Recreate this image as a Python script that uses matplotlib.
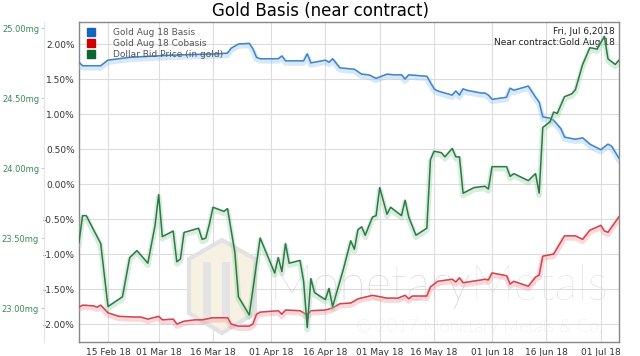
import numpy as np
import matplotlib
matplotlib.use('Agg')
import matplotlib.pyplot as plt
import matplotlib.dates as mdates
import matplotlib.patheffects as pe
from matplotlib.lines import Line2D
from matplotlib.patches import Polygon

start = np.datetime64('2018-02-07')

# Gold Aug 18 Basis (%), days since 7 Feb 2018
basis_day = [0, 1, 6, 8, 14, 25, 38, 41, 42, 44, 47, 48, 49, 50, 55, 56, 57, 62, 63, 64,
             68, 69, 70, 72, 76, 78, 80, 82, 85, 87, 89, 90, 91, 96, 98, 99, 103, 104, 105,
             106, 107, 111, 112, 113, 114, 118, 119, 120, 124, 126, 127, 128, 130, 131, 133,
             134, 137, 139, 141, 144, 146, 147, 149]
basis = [1.74, 1.69, 1.69, 1.77, 1.81, 1.84, 1.86, 1.87, 1.94, 2.00, 2.01, 1.93, 1.81, 1.79,
         1.79, 1.83, 1.76, 1.76, 1.86, 1.73, 1.77, 1.74, 1.79, 1.66, 1.64, 1.57, 1.56, 1.51,
         1.57, 1.56, 1.56, 1.50, 1.56, 1.54, 1.36, 1.33, 1.27, 1.33, 1.27, 1.36, 1.34, 1.30,
         1.30, 1.27, 1.21, 1.24, 1.37, 1.34, 1.40, 1.24, 1.17, 0.96, 0.94, 0.91, 0.79, 0.67,
         0.64, 0.66, 0.57, 0.49, 0.57, 0.54, 0.37]

# Gold Aug 18 Cobasis (%)
cobasis_day = [0, 1, 4, 5, 6, 8, 11, 15, 17, 19, 22, 23, 26, 27, 29, 32, 34, 37, 41, 42, 44,
               47, 48, 49, 50, 55, 56, 57, 61, 63, 64, 68, 70, 72, 75, 77, 81, 85, 88, 90,
               91, 92, 96, 97, 99, 103, 104, 105, 106, 111, 112, 113, 114, 118, 119, 120,
               124, 126, 127, 128, 131, 134, 137, 139, 141, 144, 145, 146, 149]
cobasis = [-1.76, -1.73, -1.74, -1.76, -1.73, -1.84, -1.89, -1.90, -1.90, -1.93, -1.89,
           -1.94, -1.93, -2.00, -1.96, -1.94, -1.94, -1.91, -1.91, -2.00, -2.03, -2.03,
           -2.00, -1.86, -1.83, -1.81, -1.86, -1.80, -1.81, -1.87, -1.81, -1.80, -1.77,
           -1.71, -1.70, -1.64, -1.59, -1.63, -1.63, -1.59, -1.64, -1.60, -1.60, -1.47,
           -1.39, -1.36, -1.40, -1.34, -1.41, -1.37, -1.36, -1.37, -1.27, -1.31, -1.43,
           -1.39, -1.46, -1.33, -1.30, -1.03, -1.00, -0.74, -0.74, -0.79, -0.66, -0.59,
           -0.67, -0.69, -0.47]

# Dollar bid price in gold (mg)
dollar_day = [0, 1, 2, 6, 8, 12, 14, 16, 19, 21, 22, 23, 26, 27, 28, 29, 33, 34, 35, 36, 37,
              40, 41, 43, 44, 47, 50, 54, 55, 56, 57, 58, 61, 62, 63, 64, 65, 68, 69, 70, 73,
              75, 76, 77, 78, 79, 81, 82, 83, 85, 86, 89, 90, 91, 93, 96, 97, 98, 100, 101,
              103, 104, 105, 106, 109, 112, 113, 114, 118, 119, 120, 124, 126, 127, 128, 130,
              131, 132, 134, 136, 137, 139, 141, 143, 145, 146, 148, 149]
dollar = [23.47, 23.66, 23.66, 23.46, 23.01, 23.08, 23.36, 23.41, 23.32, 23.59, 23.81,
          23.51, 23.55, 23.33, 23.35, 23.54, 23.57, 23.49, 23.50, 23.60, 23.72, 23.69,
          23.71, 23.40, 23.08, 22.95, 23.50, 23.25, 23.36, 23.26, 23.46, 23.32, 23.34,
          23.19, 22.86, 23.21, 23.11, 23.06, 23.14, 23.01, 23.28, 23.48, 23.42, 23.56,
          23.58, 23.52, 23.65, 23.66, 23.86, 23.67, 23.72, 23.66, 23.77, 23.65, 23.52,
          23.57, 24.06, 24.12, 24.11, 24.08, 24.14, 24.08, 24.08, 23.82, 23.86, 23.87,
          23.85, 24.01, 24.01, 23.94, 23.96, 23.91, 23.96, 23.82, 24.29, 24.33, 24.40,
          24.39, 24.51, 24.53, 24.56, 24.74, 24.86, 24.85, 24.94, 24.78, 24.74, 24.77]

pct_ticks = [-2.0, -1.5, -1.0, -0.5, 0.0, 0.5, 1.0, 1.5, 2.0]
mg_ticks = [23.0, 23.5, 24.0, 24.5, 25.0]
date_ticks = ['2018-02-15', '2018-03-01', '2018-03-16', '2018-04-01', '2018-04-16',
              '2018-05-01', '2018-05-16', '2018-06-01', '2018-06-16', '2018-07-01']

blue, red, green = '#3f83c8', '#d2434f', '#2f7748'

fig = plt.figure(figsize=(6.4, 3.56), dpi=100)
ax = fig.add_axes([0.1234, 0.0393, 0.8436, 0.8987])
ax2 = ax.twinx()

def days(d):
    return start + np.array(d).astype('timedelta64[D]')

def glow(c):
    return [pe.SimpleLineShadow(offset=(0, -1.5), shadow_color=c, alpha=0.35, linewidth=4),
            pe.Normal()]

ax.plot(days(basis_day), basis, color=blue, lw=1.1, path_effects=glow('#8fc0f0'), zorder=3)
ax.plot(days(cobasis_day), cobasis, color=red, lw=1.1, path_effects=glow('#f0909a'), zorder=3)
ax2.plot(days(dollar_day), dollar, color=green, lw=1.1, path_effects=glow('#8fd0a0'), zorder=3)

ax.set_xlim(start, np.datetime64('2018-07-06'))
ax.set_ylim(-2.257, 2.314)
ax2.set_ylim(22.757, 25.043)

ax.set_yticks(pct_ticks)
ax.set_yticklabels(['%.2f%%' % v for v in pct_ticks])
ax.set_xticks([np.datetime64(d) for d in date_ticks])
ax.xaxis.set_major_formatter(mdates.DateFormatter('%d %b %y'))
ax.tick_params(axis='both', length=0, labelsize=6.5, colors='#333333')
ax.tick_params(axis='x', pad=4)
ax.tick_params(axis='y', pad=3)
ax.grid(True, color='#dcdcdc', lw=0.8)
ax.set_axisbelow(True)
for s in ax.spines.values():
    s.set_color('#888888')
    s.set_linewidth(1.0)

ax2.yaxis.tick_left()
ax2.spines['left'].set_position(('outward', 25))
ax2.spines['left'].set_color('#e4e4e4')
ax2.spines['right'].set_visible(False)
ax2.spines['top'].set_visible(False)
ax2.spines['bottom'].set_visible(False)
ax2.set_yticks(mg_ticks)
ax2.set_yticklabels(['%.2fmg' % v for v in mg_ticks])
ax2.tick_params(axis='y', length=2.5, color='#cccccc', labelsize=6.0, labelcolor='#3a8a5a', pad=1.2)

# watermark: logo hexagon and text
px = lambda x, y: ((x - 79) / 540, (342 - y) / 320)
hexagon = Polygon([px(222, 240), px(255, 259), px(255, 313), px(222, 333), px(189, 313), px(189, 259)],
                  closed=True, transform=ax.transAxes, facecolor='#f6f1e2', edgecolor='#e2e2e2',
                  lw=3, zorder=1)
ax.add_patch(hexagon)
for bx in [(203, 211), (222, 230)]:
    ax.add_patch(Polygon([px(bx[0], 262), px(bx[1], 262), px(bx[1], 318), px(bx[0], 318)],
                         closed=True, transform=ax.transAxes, facecolor='#e4e4e4',
                         edgecolor='none', zorder=1))
ax.text(0.725, 0.13, 'Monetary', transform=ax.transAxes, fontsize=35, family='Lato',
        weight='light', color='#c8c8c8', ha='right', va='baseline', zorder=1)
ax.text(0.725, 0.13, 'Metals', transform=ax.transAxes, fontsize=35, family='Lato',
        weight='light', color='#dadada', ha='left', va='baseline', zorder=1)
ax.text(0.743, 0.047, '\u00a9 2017 Monetary Metals & Co.', transform=ax.transAxes, fontsize=13,
        family='Lato', weight='light', color='#d2d2d2', ha='center', va='center', zorder=1)

handles = [Line2D([], [], ls='', marker='s', ms=6, color=c) for c in ['#1466c0', '#cc0000', '#0b6630']]
leg = ax.legend(handles, ['Gold Aug 18 Basis', 'Gold Aug 18 Cobasis', 'Dollar Bid Price (in gold)'],
                loc='upper left', frameon=False, fontsize=6.5, handletextpad=1.9,
                labelspacing=0.22, borderaxespad=0.3, handlelength=1.2)
for t in leg.get_texts():
    t.set_color('#555555')

ax.text(0.992, 0.985, 'Fri, Jul 6,2018\nNear contract:Gold Aug 18', transform=ax.transAxes,
        ha='right', va='top', fontsize=6.5, color='#222222', linespacing=1.3, zorder=5)

fig.text(0.5, 0.995, 'Gold Basis (near contract)', ha='center', va='top', fontsize=12)

fig.savefig('out.png', dpi=100)
